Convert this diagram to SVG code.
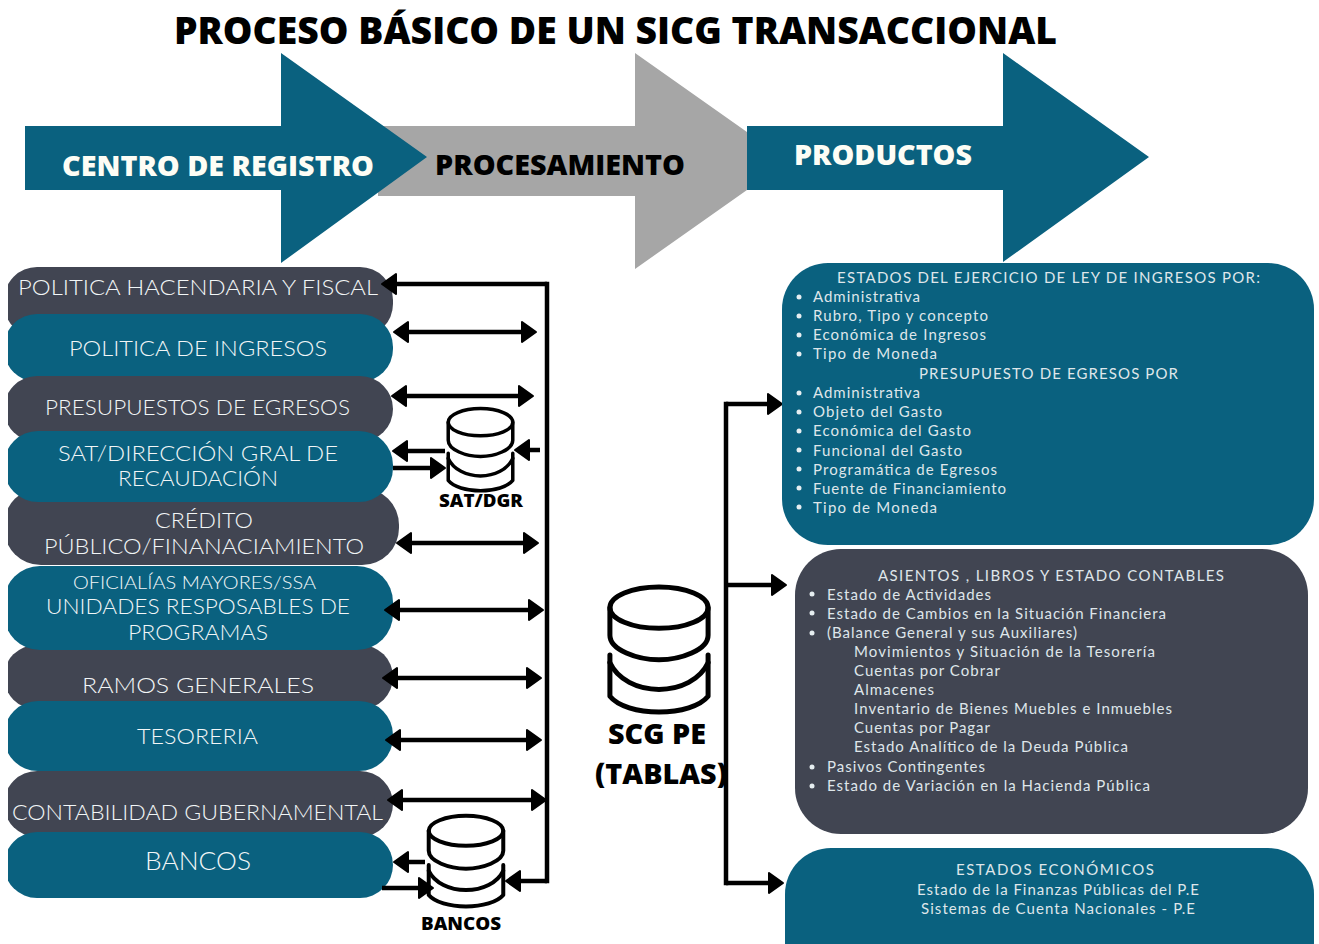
<svg xmlns="http://www.w3.org/2000/svg" width="1319" height="944" viewBox="0 0 1319 944">
<style>
.teal{fill:#0a617f}.dark{fill:#414552}.grey{fill:#a6a6a6}
.pill{clip-path:url(#leftcut)}
.h{font-family:"Open Sans","Liberation Sans",sans-serif;font-weight:800}
.p{font-family:"Lato","Liberation Sans",sans-serif;font-size:22px;font-weight:300;fill:#f2f6f7}
.b{font-family:"Lato","Liberation Sans",sans-serif;font-size:15px;fill:#dfe6ea}
.c{fill:none;stroke:#000;stroke-width:4.5}
.dot{fill:#e6eef1}
.ic{fill:none;stroke:#000;stroke-linecap:round;stroke-linejoin:round;vector-effect:non-scaling-stroke}
</style>
<defs>
<clipPath id="leftcut"><rect x="8" y="0" width="1311" height="944"/></clipPath>
<marker id="ah" markerUnits="userSpaceOnUse" markerWidth="18" markerHeight="26" refX="9" refY="13" orient="auto-start-reverse"><polygon points="1,3 15,13 1,23" fill="#000" stroke="#000" stroke-width="2" stroke-linejoin="round"/></marker>
<symbol id="db" viewBox="-3 -3 110 136" preserveAspectRatio="none" overflow="visible">
<ellipse class="ic" cx="52" cy="22" rx="50" ry="21"/>
<path class="ic" d="M2,22V50C2,65 30,75 52,75C74,75 102,65 102,50V22"/>
<path class="ic" d="M2,70V112C10,122 30,128 52,128C74,128 94,122 102,112V70"/>
<path class="ic" d="M2,78C10,95 30,105 52,105C74,105 94,95 102,78"/>
</symbol>
</defs>
<rect width="1319" height="944" fill="#fff"/>
<text id="title" class="h" x="174" y="44" font-size="37" textLength="883" lengthAdjust="spacingAndGlyphs">PROCESO BÁSICO DE UN SICG TRANSACCIONAL</text>

<g id="arrow-procesamiento"><polygon class="grey" points="378,126 635,126 635,53 788,161 635,269 635,196 378,196"/><text class="h" x="435" y="175" font-size="28" textLength="250" lengthAdjust="spacingAndGlyphs">PROCESAMIENTO</text></g>
<g id="arrow-centro"><polygon class="teal" points="25,126 281,126 281,53 427,157 281,263 281,190 25,190"/><text class="h" x="62" y="176" font-size="28" fill="#fdfdf5" textLength="312" lengthAdjust="spacingAndGlyphs">CENTRO DE REGISTRO</text></g>
<g id="arrow-productos"><polygon class="teal" points="747,126 1003,126 1003,53 1149,157 1003,262 1003,190 747,190"/><text class="h" x="794" y="165" font-size="28" fill="#fdfdf5" textLength="178" lengthAdjust="spacingAndGlyphs">PRODUCTOS</text></g>

<g id="n-hacendaria"><rect class="dark pill" x="4" y="267" width="389" height="70" rx="33"/><text class="p" x="18" y="295" textLength="360" lengthAdjust="spacingAndGlyphs">POLITICA HACENDARIA Y FISCAL</text></g>
<g id="n-ingresos"><rect class="teal pill" x="4" y="314" width="389" height="68" rx="33"/><text class="p" x="69" y="356" textLength="258" lengthAdjust="spacingAndGlyphs">POLITICA DE INGRESOS</text></g>
<g id="n-egresos"><rect class="dark pill" x="4" y="376" width="389" height="66" rx="33"/><text class="p" x="45" y="415" textLength="305" lengthAdjust="spacingAndGlyphs">PRESUPUESTOS DE EGRESOS</text></g>
<g id="n-credito"><rect class="dark pill" x="4" y="488" width="395" height="77" rx="37"/><text class="p" x="155" y="528" textLength="98" lengthAdjust="spacingAndGlyphs">CRÉDITO</text><text class="p" x="44" y="554" textLength="320" lengthAdjust="spacingAndGlyphs">PÚBLICO/FINANACIAMIENTO</text></g>
<g id="n-sat"><rect class="teal pill" x="4" y="431" width="389" height="71" rx="34"/><text class="p" x="58" y="461" textLength="280" lengthAdjust="spacingAndGlyphs">SAT/DIRECCIÓN GRAL DE</text><text class="p" x="118" y="486" textLength="160" lengthAdjust="spacingAndGlyphs">RECAUDACIÓN</text></g>
<g id="n-ramos"><rect class="dark pill" x="4" y="645" width="389" height="64" rx="32"/><text class="p" x="82" y="693" textLength="232" lengthAdjust="spacingAndGlyphs">RAMOS GENERALES</text></g>
<g id="n-oficialias"><rect class="teal pill" x="4" y="566" width="389" height="84" rx="36"/><text class="p" x="73" y="589" style="font-size:18px" textLength="243" lengthAdjust="spacingAndGlyphs">OFICIALÍAS MAYORES/SSA</text><text class="p" x="46" y="614" textLength="304" lengthAdjust="spacingAndGlyphs">UNIDADES RESPOSABLES DE</text><text class="p" x="128" y="640" textLength="140" lengthAdjust="spacingAndGlyphs">PROGRAMAS</text></g>
<g id="n-contabilidad"><rect class="dark pill" x="4" y="771" width="389" height="66" rx="33"/><text class="p" x="12" y="820" textLength="371" lengthAdjust="spacingAndGlyphs">CONTABILIDAD GUBERNAMENTAL</text></g>
<g id="n-tesoreria"><rect class="teal pill" x="4" y="701" width="389" height="70" rx="34"/><text class="p" x="137" y="744" textLength="121" lengthAdjust="spacingAndGlyphs">TESORERIA</text></g>
<g id="n-bancos"><rect class="teal pill" x="4" y="832" width="389" height="66" rx="33"/><text class="p" x="145" y="870" style="font-size:25px" textLength="106" lengthAdjust="spacingAndGlyphs">BANCOS</text></g>

<g id="connectors">
<path class="c" d="M547,284V881" stroke-linecap="square"/>
<path class="c" d="M547,284H388" marker-end="url(#ah)"/>
<path class="c" d="M547,881H512" marker-end="url(#ah)"/>
<path class="c" d="M400,332H530" marker-start="url(#ah)" marker-end="url(#ah)"/>
<path class="c" d="M398,396H527" marker-start="url(#ah)" marker-end="url(#ah)"/>
<path class="c" d="M445,451H399" marker-end="url(#ah)"/>
<path class="c" d="M393,468H439" marker-end="url(#ah)"/>
<path class="c" d="M540,450H521" marker-end="url(#ah)"/>
<path class="c" d="M403,543H532" marker-start="url(#ah)" marker-end="url(#ah)"/>
<path class="c" d="M391,610H537" marker-start="url(#ah)" marker-end="url(#ah)"/>
<path class="c" d="M389,678H535" marker-start="url(#ah)" marker-end="url(#ah)"/>
<path class="c" d="M392,740H535" marker-start="url(#ah)" marker-end="url(#ah)"/>
<path class="c" d="M394,800H540" marker-start="url(#ah)" marker-end="url(#ah)"/>
<path class="c" d="M425,862H400" marker-end="url(#ah)"/>
<path class="c" d="M382,888H427" marker-end="url(#ah)"/>
<path class="c" d="M726,404V883" stroke-linecap="square"/>
<path class="c" d="M726,404H776" marker-end="url(#ah)"/>
<path class="c" d="M728,585H780" marker-end="url(#ah)"/>
<path class="c" d="M726,883H777" marker-end="url(#ah)"/>
</g>

<g id="db-sat"><use href="#db" x="445" y="406" width="71" height="88" stroke-width="3.5"/><text class="h" x="439" y="507" font-size="18" textLength="84" lengthAdjust="spacingAndGlyphs">SAT/DGR</text></g>
<g id="db-bancos"><use href="#db" x="425" y="813" width="82" height="97" stroke-width="4"/><text class="h" x="421" y="930" font-size="18" textLength="80" lengthAdjust="spacingAndGlyphs">BANCOS</text></g>
<g id="db-scg"><use href="#db" x="605" y="583" width="108" height="134" stroke-width="5"/><text class="h" x="608" y="744" font-size="28" textLength="98" lengthAdjust="spacingAndGlyphs">SCG PE</text><text class="h" x="595" y="784" font-size="28" textLength="132" lengthAdjust="spacingAndGlyphs">(TABLAS)</text></g>

<g id="p-ingresos"><rect class="teal" x="782" y="263" width="532" height="282" rx="46"/>
<text class="b" x="837" y="283" textLength="423">ESTADOS DEL EJERCICIO DE LEY DE INGRESOS POR:</text>
<circle class="dot" cx="799" cy="297" r="2.5"/><text class="b" x="813" y="302" textLength="107">Administrativa</text>
<circle class="dot" cx="799" cy="316" r="2.5"/><text class="b" x="813" y="321" textLength="175">Rubro, Tipo y concepto</text>
<circle class="dot" cx="799" cy="335" r="2.5"/><text class="b" x="813" y="340" textLength="173">Económica de Ingresos</text>
<circle class="dot" cx="799" cy="354" r="2.5"/><text class="b" x="813" y="359" textLength="124">Tipo de Moneda</text>
<text class="b" x="919" y="379" textLength="259">PRESUPUESTO DE EGRESOS POR</text>
<circle class="dot" cx="799" cy="393" r="2.5"/><text class="b" x="813" y="398" textLength="107">Administrativa</text>
<circle class="dot" cx="799" cy="412" r="2.5"/><text class="b" x="813" y="417" textLength="129">Objeto del Gasto</text>
<circle class="dot" cx="799" cy="431" r="2.5"/><text class="b" x="813" y="436" textLength="158">Económica del Gasto</text>
<circle class="dot" cx="799" cy="450" r="2.5"/><text class="b" x="813" y="456" textLength="149">Funcional del Gasto</text>
<circle class="dot" cx="799" cy="469" r="2.5"/><text class="b" x="813" y="475" textLength="184">Programática de Egresos</text>
<circle class="dot" cx="799" cy="488" r="2.5"/><text class="b" x="813" y="494" textLength="193">Fuente de Financiamiento</text>
<circle class="dot" cx="799" cy="507" r="2.5"/><text class="b" x="813" y="513" textLength="124">Tipo de Moneda</text>
</g>

<g id="p-asientos"><rect class="dark" x="795" y="549" width="513" height="285" rx="46"/>
<text class="b" x="878" y="581" textLength="346">ASIENTOS , LIBROS Y ESTADO CONTABLES</text>
<circle class="dot" cx="812" cy="594" r="2.5"/><text class="b" x="827" y="600" textLength="164">Estado de Actividades</text>
<circle class="dot" cx="812" cy="613" r="2.5"/><text class="b" x="827" y="619" textLength="339">Estado de Cambios en la Situación Financiera</text>
<circle class="dot" cx="812" cy="633" r="2.5"/><text class="b" x="827" y="638" textLength="250">(Balance General y sus Auxiliares)</text>
<text class="b" x="854" y="657" textLength="301">Movimientos y Situación de la Tesorería</text>
<text class="b" x="854" y="676" textLength="146">Cuentas por Cobrar</text>
<text class="b" x="854" y="695" textLength="80">Almacenes</text>
<text class="b" x="854" y="714" textLength="318">Inventario de Bienes Muebles e Inmuebles</text>
<text class="b" x="854" y="733" textLength="136">Cuentas por Pagar</text>
<text class="b" x="854" y="752" textLength="274">Estado Analítico de la Deuda Pública</text>
<circle class="dot" cx="812" cy="767" r="2.5"/><text class="b" x="827" y="772" textLength="158">Pasivos Contingentes</text>
<circle class="dot" cx="812" cy="786" r="2.5"/><text class="b" x="827" y="791" textLength="323">Estado de Variación en la Hacienda Pública</text>
</g>

<g id="p-economicos"><rect class="teal" x="785" y="848" width="529" height="140" rx="46"/>
<text class="b" x="956" y="875" textLength="198">ESTADOS ECONÓMICOS</text>
<text class="b" x="917" y="895" textLength="282">Estado de la Finanzas Públicas del P.E</text>
<text class="b" x="921" y="914" textLength="274">Sistemas de Cuenta Nacionales - P.E</text>
</g>
</svg>
